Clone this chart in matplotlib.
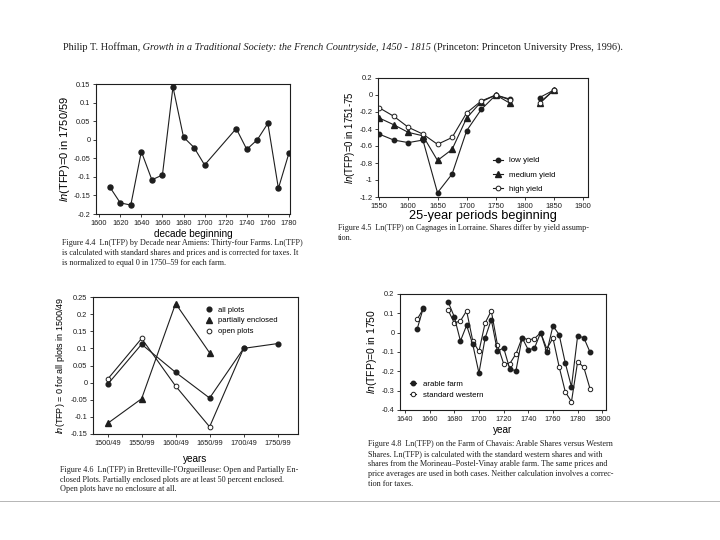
import numpy as np
import matplotlib
matplotlib.use('Agg')
import matplotlib.pyplot as plt
from matplotlib.ticker import FuncFormatter, MultipleLocator

nan = np.nan

# Figure 4.4 - Ln(TFP) by decade near Amiens
amiens_decade = [1610, 1620, 1630, 1640, 1650, 1660, 1670, 1680, 1690, 1700,
                 1730, 1740, 1750, 1760, 1770, 1780]
amiens_tfp = [-0.127, -0.170, -0.176, -0.032, -0.108, -0.095, 0.142, 0.007,
              -0.021, -0.068, 0.030, -0.026, 0.0, 0.044, -0.131, -0.036]

# Figure 4.5 - Cagnages in Lorraine, 25-year periods
cag_period = [1550, 1575, 1600, 1625, 1650, 1675, 1700, 1725, 1750, 1775, 1800, 1825, 1850]
low_yield = [-0.46, -0.53, -0.56, -0.53, -1.15, -0.93, -0.42, -0.17, 0.0, -0.05, nan, -0.03, 0.06]
medium_yield = [-0.27, -0.35, -0.44, -0.48, -0.77, -0.64, -0.27, -0.08, 0.0, -0.10, nan, -0.09, 0.06]
high_yield = [-0.15, -0.25, -0.38, -0.46, -0.58, -0.50, -0.21, -0.07, 0.0, -0.06, nan, -0.10, 0.06]

# Figure 4.6 - Bretteville-l'Orgueilleuse
brett_years = ['1500/49', '1550/99', '1600/49', '1650/99', '1700/49', '1750/99']
all_plots = [-0.005, 0.112, 0.030, -0.045, 0.100, 0.114]
part_enclosed = [-0.119, -0.047, 0.231, 0.087, nan, nan]
open_plots = [0.010, 0.129, -0.010, -0.129, 0.100, nan]

# Figure 4.8 - Farm of Chavais
chavais_year = [1650, 1655, 1660, 1665, 1670, 1675, 1680, 1685, 1690, 1695, 1700,
                1705, 1710, 1715, 1720, 1725, 1730, 1735, 1740, 1745, 1750,
                1755, 1760, 1765, 1770, 1775, 1780, 1785, 1790]
arable_farm = [0.021, 0.130, nan, nan, nan, 0.160, 0.082, -0.043, 0.038, -0.061, -0.209,
               -0.028, 0.068, -0.097, -0.078, -0.188, -0.197, -0.026, -0.089, -0.080, 0.0,
               -0.100, 0.035, -0.010, -0.157, -0.280, -0.017, -0.026, -0.100]
std_western = [0.070, 0.125, nan, nan, nan, 0.117, 0.050, 0.061, 0.113, -0.043, -0.097,
               0.050, 0.113, -0.063, -0.160, -0.160, -0.110, -0.026, -0.037, -0.031, 0.0,
               -0.083, -0.028, -0.176, -0.306, -0.357, -0.150, -0.179, -0.289]

plt.rcParams['font.family'] = ['Liberation Sans', 'DejaVu Sans']
plt.rcParams['mathtext.fontset'] = 'custom'
plt.rcParams['mathtext.it'] = 'Liberation Sans:italic'
ink = '#1e1e1e'
serif = 'Liberation Serif'
cap_fs = 5.9
cap_ls = 1.35

W, H = 720, 540
fig = plt.figure(figsize=(7.2, 5.4), dpi=100)
bg = fig.add_axes([0, 0, 1, 1])
bg.axis('off')
bg.set_xlim(0, W)
bg.set_ylim(H, 0)


def px_axes(x0, y0, x1, y1):
    return fig.add_axes([x0 / W, 1 - y1 / H, (x1 - x0) / W, (y1 - y0) / H])


def fmt(v, pos):
    return '%g' % round(v, 3)


def style(ax, fs=5.3):
    for s in ax.spines.values():
        s.set_linewidth(0.8)
        s.set_color(ink)
    ax.tick_params(direction='out', length=2, width=0.6, labelsize=fs, pad=2, colors=ink)
    ax.yaxis.set_major_formatter(FuncFormatter(fmt))


# header line
t1 = bg.text(63, 50, 'Philip T. Hoffman,', family=serif, fontsize=7.4, color=ink, va='baseline')
t2 = bg.annotate(' Growth in a Traditional Society: the French Countryside, 1450 - 1815', xy=(1, 50),
                 xycoords=(t1, 'data'), family=serif, style='italic', fontsize=7.4, color=ink, va='baseline')
bg.annotate(' (Princeton: Princeton University Press, 1996).', xy=(1, 50), xycoords=(t2, 'data'),
            family=serif, fontsize=7.4, color=ink, va='baseline')

# faint scan edge line near the bottom
bg.axhline(501, color='#b5b5b5', lw=0.7)

# --- Figure 4.4 ---
ax1 = px_axes(96, 84, 290, 214)
ax1.plot(amiens_decade, amiens_tfp, color=ink, lw=0.8, marker='o', ms=3.6)
ax1.set_xlim(1597, 1781)
ax1.set_ylim(-0.2, 0.15)
ax1.xaxis.set_major_locator(MultipleLocator(20))
ax1.yaxis.set_major_locator(MultipleLocator(0.05))
style(ax1)
ax1.set_ylabel(r'$\mathit{ln}$(TFP)=0 in 1750/59', fontsize=8, labelpad=1)
ax1.set_xlabel('decade beginning', fontsize=7.2, labelpad=2)
bg.text(62, 239, 'Figure 4.4  Ln(TFP) by Decade near Amiens: Thirty-four Farms. Ln(TFP)\n'
        'is calculated with standard shares and prices and is corrected for taxes. It\n'
        'is normalized to equal 0 in 1750\u201359 for each farm.',
        family=serif, fontsize=cap_fs, color=ink, va='top', linespacing=cap_ls)

# --- Figure 4.5 ---
ax2 = px_axes(378, 78, 588, 197)
ax2.plot(cag_period, low_yield, color=ink, lw=0.8, marker='o', ms=3.2, label='low yield')
ax2.plot(cag_period, medium_yield, color=ink, lw=0.8, marker='^', ms=4.2, label='medium yield')
ax2.plot(cag_period, high_yield, color=ink, lw=0.8, marker='o', ms=3.4, mfc='white',
         mew=0.7, label='high yield')
ax2.set_xlim(1548, 1908)
ax2.set_ylim(-1.2, 0.2)
ax2.xaxis.set_major_locator(MultipleLocator(50))
ax2.yaxis.set_major_locator(MultipleLocator(0.2))
style(ax2, 5.5)
ax2.set_ylabel(r'$\mathit{ln}$(TFP)=0 in 1751-75', fontsize=6.9, labelpad=2)
ax2.set_xlabel('25-year periods beginning', fontsize=9.2, labelpad=0.5)
ax2.legend(loc='upper left', bbox_to_anchor=(0.53, 0.37), frameon=False, fontsize=5.7,
           handlelength=1.2, handletextpad=0.8, labelspacing=0.85, borderpad=0)
bg.text(338, 224, 'Figure 4.5  Ln(TFP) on Cagnages in Lorraine. Shares differ by yield assump-\ntion.',
        family=serif, fontsize=cap_fs, color=ink, va='top', linespacing=cap_ls)

# --- Figure 4.6 ---
ax3 = px_axes(93, 297, 298, 434)
xpos = np.arange(len(brett_years))
ax3.plot(xpos, open_plots, color=ink, lw=0.8, marker='o', ms=3.4, mfc='white', mew=0.7)
ax3.plot(xpos, part_enclosed, color=ink, lw=0.8, marker='^', ms=4.2)
ax3.plot(xpos, all_plots, color=ink, lw=0.8, marker='o', ms=3.4)
ax3.set_xticks(xpos)
ax3.set_xticklabels(brett_years)
ax3.set_xlim(-0.43, 5.6)
ax3.set_ylim(-0.15, 0.25)
ax3.yaxis.set_major_locator(MultipleLocator(0.05))
style(ax3)
ax3.set_ylabel(r'$\mathit{ln}$(TFP) = 0 for all plots in 1500/49', fontsize=6.5, labelpad=3)
ax3.set_xlabel('years', fontsize=7.2, labelpad=5)
h = [plt.Line2D([], [], color=ink, lw=0, marker='o', ms=3.4),
     plt.Line2D([], [], color=ink, lw=0, marker='^', ms=4.2),
     plt.Line2D([], [], color=ink, lw=0, marker='o', ms=3.4, mfc='white', mew=0.7)]
ax3.legend(h, ['all plots', 'partially enclosed', 'open plots'], loc='upper left',
           bbox_to_anchor=(0.53, 0.96), frameon=False, fontsize=5.5, handlelength=0.8,
           handletextpad=0.8, labelspacing=0.45, borderpad=0)
bg.text(60, 466, 'Figure 4.6  Ln(TFP) in Bretteville-l\'Orgueilleuse: Open and Partially En-\n'
        'closed Plots. Partially enclosed plots are at least 50 percent enclosed.\n'
        'Open plots have no enclosure at all.',
        family=serif, fontsize=cap_fs, color=ink, va='top', linespacing=1.25)

# --- Figure 4.8 ---
ax4 = px_axes(400, 294, 606, 410)
ax4.plot(chavais_year, std_western, color=ink, lw=0.8, marker='o', ms=3.2, mfc='white', mew=0.7,
         label='standard western')
ax4.plot(chavais_year, arable_farm, color=ink, lw=0.8, marker='o', ms=3.2, label='arable farm')
ax4.set_xlim(1636, 1803)
ax4.set_ylim(-0.4, 0.2)
ax4.xaxis.set_major_locator(MultipleLocator(20))
ax4.yaxis.set_major_locator(MultipleLocator(0.1))
style(ax4)
ax4.set_ylabel(r'$\mathit{ln}$(TFP)=0 in 1750', fontsize=7.5, labelpad=2)
ax4.set_xlabel('year', fontsize=7.2, labelpad=2)
hh, ll = ax4.get_legend_handles_labels()
ax4.legend(hh[::-1], ll[::-1], loc='lower left', bbox_to_anchor=(0.03, 0.06), frameon=False,
           fontsize=5.7, handlelength=0.8, handletextpad=0.8, labelspacing=0.5, borderpad=0)
bg.text(368, 440, 'Figure 4.8  Ln(TFP) on the Farm of Chavais: Arable Shares versus Western\n'
        'Shares. Ln(TFP) is calculated with the standard western shares and with\n'
        'shares from the Morineau\u2013Postel-Vinay arable farm. The same prices and\n'
        'price averages are used in both cases. Neither calculation involves a correc-\n'
        'tion for taxes.',
        family=serif, fontsize=cap_fs, color=ink, va='top', linespacing=cap_ls)

fig.savefig('out.png', dpi=100, facecolor='white')
